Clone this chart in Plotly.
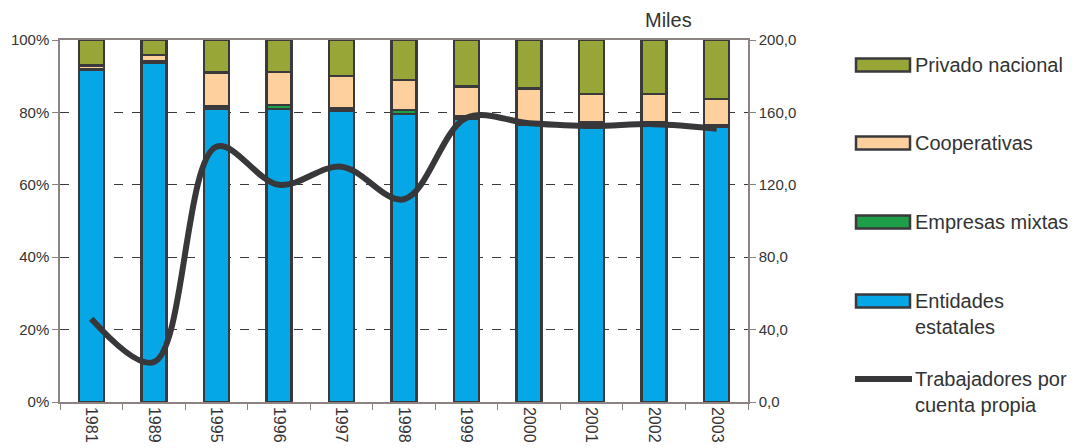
import plotly.graph_objects as go

# Employment structure by sector (share of total, %) and self-employed workers (thousands)
years = ["1981", "1989", "1995", "1996", "1997", "1998", "1999", "2000", "2001", "2002", "2003"]
entidades_estatales = [91.7, 93.8, 80.9, 81.0, 80.4, 79.5, 78.3, 76.5, 76.7, 76.7, 76.0]
empresas_mixtas = [0.3, 0.2, 0.7, 1.0, 0.7, 1.2, 0.5, 0.5, 0.5, 0.5, 0.5]
cooperativas = [1.0, 1.9, 9.4, 9.2, 9.0, 8.3, 8.3, 9.6, 7.9, 7.9, 7.2]
privado_nacional = [7.0, 4.1, 9.0, 8.8, 9.9, 11.0, 12.9, 13.4, 14.9, 14.9, 16.3]
cuenta_propia = [46.0, 22.0, 141.0, 120.0, 130.0, 112.0, 157.0, 154.0, 152.5, 153.5, 151.0]

left_ticks = [0, 20, 40, 60, 80, 100]
left_labels = ["0%", "20%", "40%", "60%", "80%", "100%"]
right_ticks = [0, 40, 80, 120, 160, 200]

C_BLUE = "#06a7e6"
C_GREEN = "#1f9e4a"
C_PEACH = "#fdd09e"
C_OLIVE = "#97a636"
C_EDGE = "#3a3a3d"
C_LINE = "#38383b"
C_AXIS = "#8c8282"
C_TEXT = "#333333"
FONT = "Liberation Sans, Arial, sans-serif"

fig = go.Figure()

bar_series = [
    ("Entidades estatales", entidades_estatales, C_BLUE),
    ("Empresas mixtas", empresas_mixtas, C_GREEN),
    ("Cooperativas", cooperativas, C_PEACH),
    ("Privado nacional", privado_nacional, C_OLIVE),
]
for name, vals, col in bar_series:
    fig.add_trace(go.Bar(
        x=years, y=vals, name=name, yaxis="y",
        marker=dict(color=col, line=dict(color=C_EDGE, width=2.5)),
        showlegend=False,
    ))

fig.add_trace(go.Scatter(
    x=years, y=cuenta_propia, name="Trabajadores por cuenta propia", yaxis="y2",
    mode="lines", line=dict(color=C_LINE, width=6, shape="spline", smoothing=1.0),
    showlegend=False,
))

# Plot-area geometry in pixels, used to place the hand-drawn legend
L, R, T, B = 60, 748, 40, 402
W, H = R - L, B - T


def px(x):
    return (x - L) / W


def py(y):
    return (B - y) / H


shapes = []
annotations = []

legend_items = [
    ("rect", C_OLIVE, ["Privado nacional"], 65),
    ("rect", C_PEACH, ["Cooperativas"], 143),
    ("rect", C_GREEN, ["Empresas mixtas"], 222),
    ("rect", C_BLUE, ["Entidades", "estatales"], 301),
    ("line", C_LINE, ["Trabajadores por", "cuenta propia"], 379),
]
for kind, col, lines, yc in legend_items:
    if kind == "rect":
        shapes.append(dict(
            type="rect", xref="paper", yref="paper",
            x0=px(856), x1=px(910), y0=py(yc - 6.5), y1=py(yc + 6.5),
            fillcolor=col, line=dict(color=C_EDGE, width=2.5),
        ))
    else:
        shapes.append(dict(
            type="line", xref="paper", yref="paper",
            x0=px(855), x1=px(912), y0=py(yc), y1=py(yc),
            line=dict(color=col, width=6),
        ))
    for i, txt in enumerate(lines):
        annotations.append(dict(
            text=txt, xref="paper", yref="paper",
            x=px(913), y=py(yc + i * 26), xanchor="left", yanchor="middle",
            showarrow=False, font=dict(size=20, color=C_TEXT, family=FONT),
        ))

annotations.append(dict(
    text="Miles", xref="paper", yref="paper", x=px(668), y=py(20),
    xanchor="center", yanchor="middle", showarrow=False,
    font=dict(size=20, color=C_TEXT, family=FONT),
))

fig.update_layout(
    width=1075, height=448,
    margin=dict(l=L, r=1075 - R, t=T, b=448 - B),
    paper_bgcolor="white", plot_bgcolor="white",
    barmode="stack", bargap=0.6,
    separators=",.",
    font=dict(family=FONT, color=C_TEXT, size=15),
    showlegend=False,
    xaxis=dict(
        type="category", tickangle=90, ticks="outside", tickson="boundaries",
        ticklen=6, tickcolor=C_AXIS, showline=True, linecolor=C_AXIS, linewidth=1.5,
        mirror=True, showgrid=False, tickfont=dict(size=16, color=C_TEXT),
        automargin=False,
    ),
    yaxis=dict(
        range=[0, 100], tickvals=left_ticks, ticktext=left_labels, ticks="outside",
        ticklen=6, tickcolor=C_AXIS, showline=True, linecolor=C_AXIS, linewidth=1.5,
        showgrid=True, gridcolor="#3a3a3a", gridwidth=1, griddash="dash",
        zeroline=False, tickfont=dict(size=15, color=C_TEXT), automargin=False,
    ),
    yaxis2=dict(
        range=[0, 200], tickvals=right_ticks, tickformat=".1f", overlaying="y",
        side="right", ticks="outside", ticklen=6, tickcolor=C_AXIS,
        showline=True, linecolor=C_AXIS, linewidth=1.5, showgrid=False,
        zeroline=False, tickfont=dict(size=15, color=C_TEXT), automargin=False,
    ),
    shapes=shapes,
    annotations=annotations,
)

fig.write_html("out.html")
